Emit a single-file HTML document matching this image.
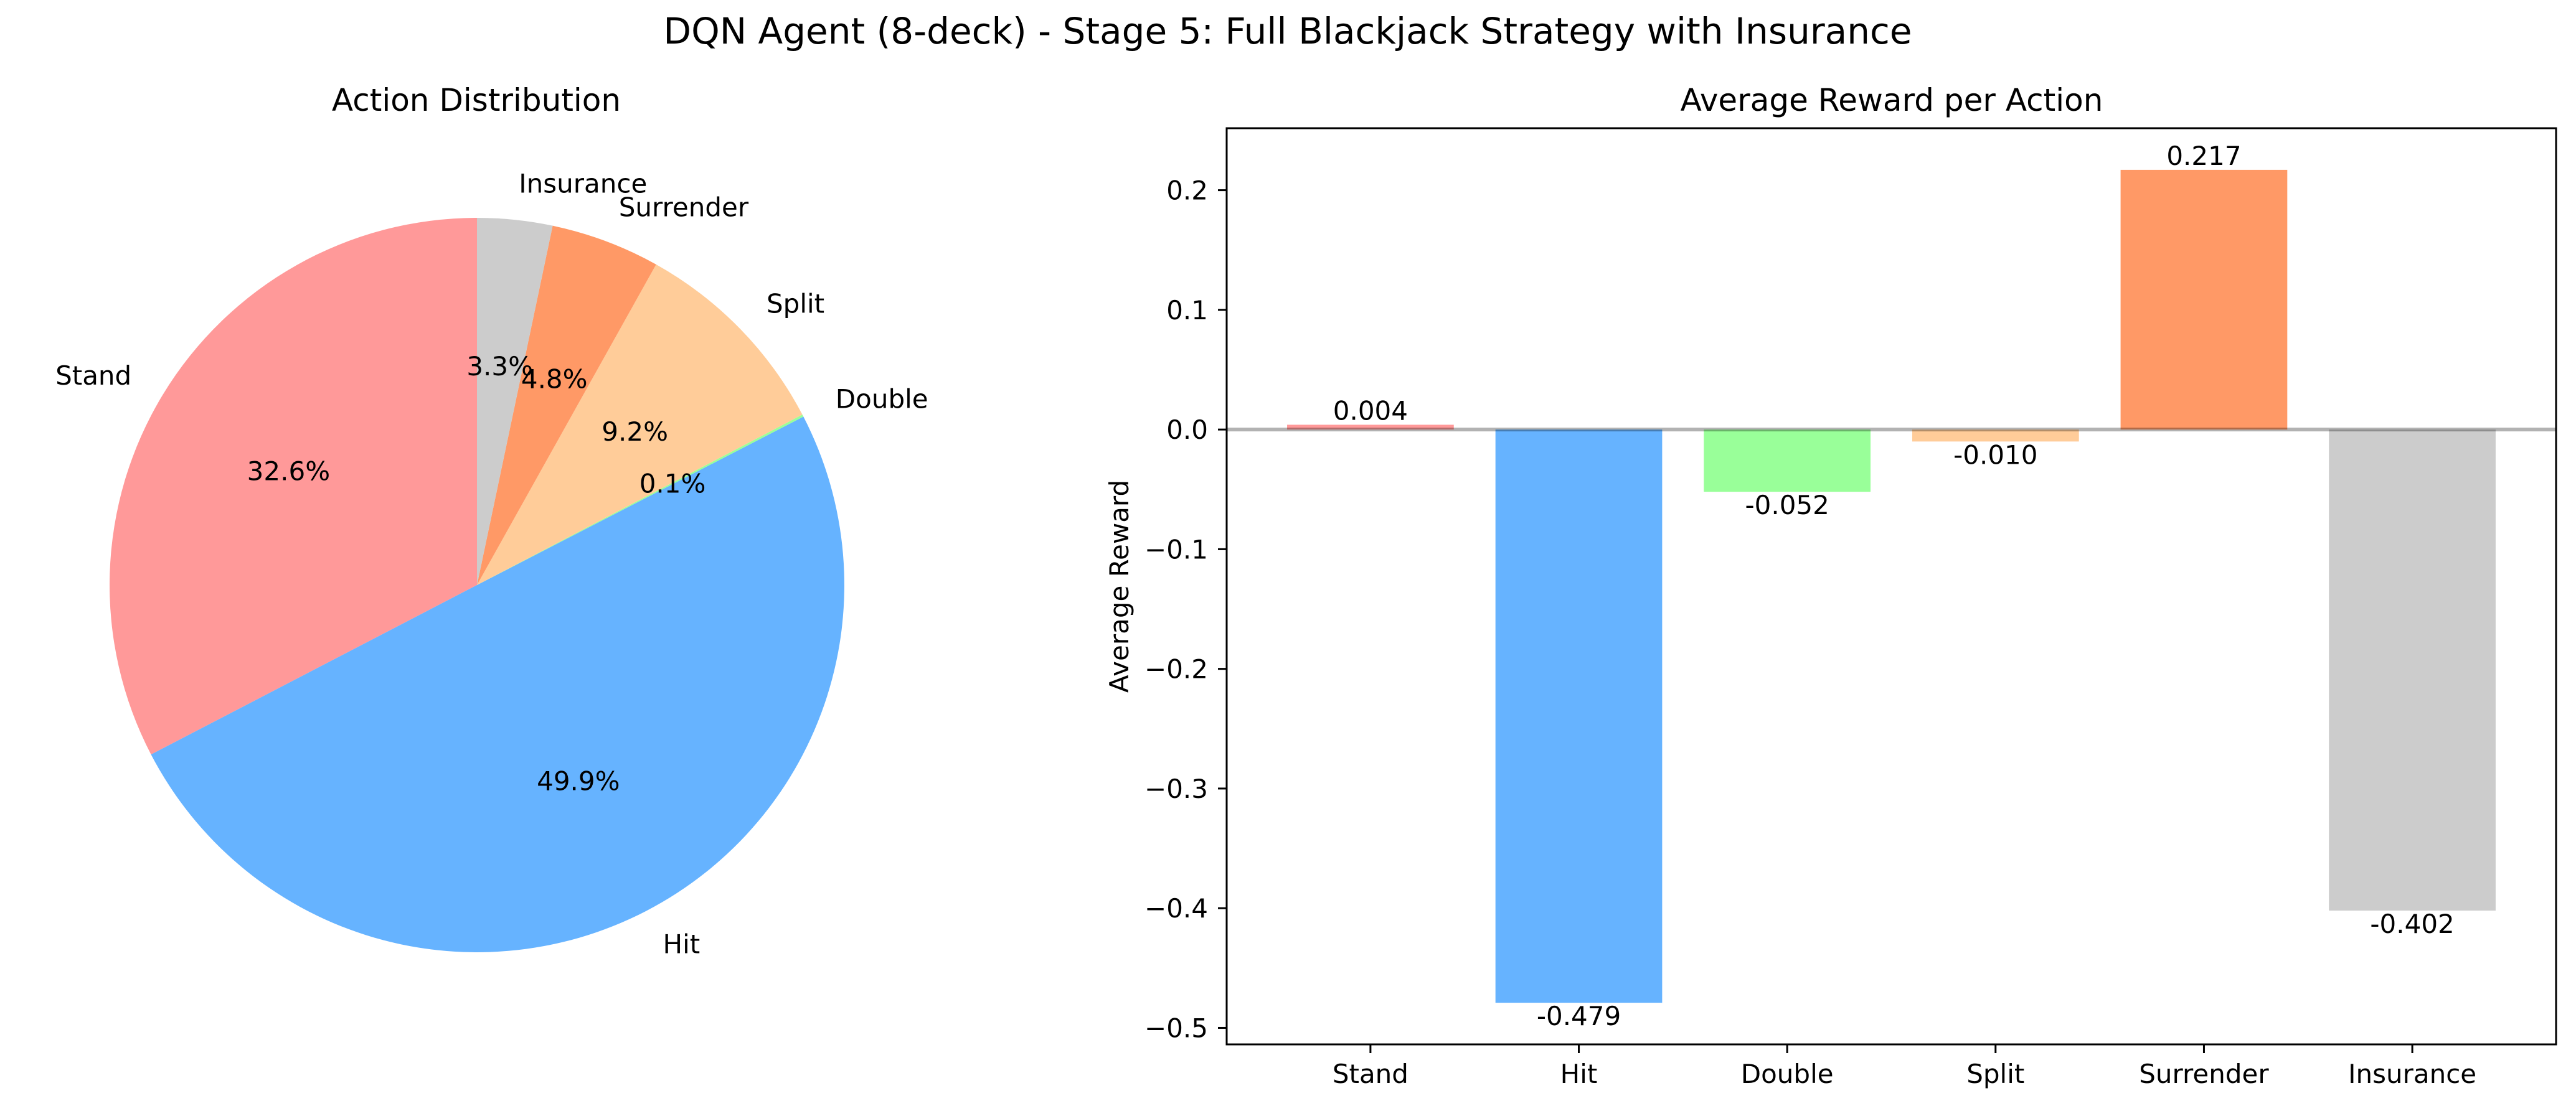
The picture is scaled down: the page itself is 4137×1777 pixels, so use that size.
<!DOCTYPE html>
<html><head><meta charset="utf-8"><style>
html,body{margin:0;padding:0;background:#fff}
svg{display:block;font-family:"DejaVu Sans","Liberation Sans",sans-serif}
</style></head><body>
<svg id="fig" width="4137" height="1777" viewBox="0 0 4137 1777" xmlns="http://www.w3.org/2000/svg">
<rect width="4137" height="1777" fill="#fff"/>
<text x="2068" y="70" font-size="58" text-anchor="middle">DQN Agent (8-deck) - Stage 5: Full Blackjack Strategy with Insurance</text>
<text x="765" y="178" font-size="50" text-anchor="middle">Action Distribution</text>
<text x="3038" y="178" font-size="50" text-anchor="middle">Average Reward per Action</text>
<g id="pie"></g>
<g id="pietext"></g>
<g id="bars"></g>
</svg>
<script>
const pieLabels = ["Stand","Hit","Double","Split","Surrender","Insurance"];
const pieShares = [32.6, 49.9, 0.1, 9.2, 4.8, 3.3];
const barCategories = ["Stand","Hit","Double","Split","Surrender","Insurance"];
const barValues = [0.004, -0.479, -0.052, -0.010, 0.217, -0.402];
const barValueLabels = ["0.004","-0.479","-0.052","-0.010","0.217","-0.402"];
const yTicks = [-0.5,-0.4,-0.3,-0.2,-0.1,0.0,0.1,0.2];
const yTickLabels = ["\u22120.5","\u22120.4","\u22120.3","\u22120.2","\u22120.1","0.0","0.1","0.2"];
const colors = ["#ff9999","#66b3ff","#99ff99","#ffcc99","#ff9966","#cccccc"];

const NS = "http://www.w3.org/2000/svg";
function mk(tag, attrs, parent){const e=document.createElementNS(NS,tag);for(const k in attrs)e.setAttribute(k,attrs[k]);parent.appendChild(e);return e;}

// Pie
const pie=document.getElementById('pie');
const pt=document.getElementById('pietext');
const cx=766, cy=940, R=590;
const total=pieShares.reduce((a,b)=>a+b,0);
let ang=90;
pieShares.forEach((v,i)=>{
  const sweep=v/total*360, a0=ang, a1=ang+sweep; ang=a1;
  const r0=a0*Math.PI/180, r1=a1*Math.PI/180;
  const x0=cx+R*Math.cos(r0), y0=cy-R*Math.sin(r0), x1=cx+R*Math.cos(r1), y1=cy-R*Math.sin(r1);
  const p=mk('path',{d:`M${cx},${cy} L${x0},${y0} A${R},${R} 0 ${sweep>180?1:0} 0 ${x1},${y1} Z`,fill:colors[i]},pie);
  
  
  const m=(a0+a1)/2*Math.PI/180;
  const lx=cx+1.1*R*Math.cos(m), ly=cy-1.1*R*Math.sin(m);
  const t=mk('text',{x:lx,y:ly+15,'font-size':42,'text-anchor':Math.cos(m)<0?'end':'start'},pt);
  t.textContent=pieLabels[i];
  
  
  const px=cx+0.6*R*Math.cos(m), py=cy-0.6*R*Math.sin(m);
  const q=mk('text',{x:px,y:py+15,'font-size':42,'text-anchor':'middle'},pt);
  q.textContent=v.toFixed(1)+'%';
  
  
});

// Bars
const g=document.getElementById('bars');
const L=1970, Rt=4105, T=206, B=1678;
const xmin=-0.69, xmax=5.69, ymin=-0.5138, ymax=0.2518;
const X=v=>L+(v-xmin)/(xmax-xmin)*(Rt-L);
const Y=v=>T+(ymax-v)/(ymax-ymin)*(B-T);
barValues.forEach((v,i)=>{
  const x0=X(i-0.4), x1=X(i+0.4), ya=Y(Math.max(v,0)), yb=Y(Math.min(v,0));
  const r=mk('rect',{x:x0,y:ya,width:x1-x0,height:Math.max(yb-ya,1),fill:colors[i]},g);
  
  
  const t=mk('text',{x:X(i),y:v>=0?Y(v)-8:Y(v)+36,'font-size':42,'text-anchor':'middle'},g);
  t.textContent=barValueLabels[i];
  
  
  const tk=mk('line',{x1:X(i),x2:X(i),y1:B,y2:B+14,stroke:'#000','stroke-width':3},g);
  
  
  const xl=mk('text',{x:X(i),y:B+62,'font-size':42,'text-anchor':'middle'},g);
  xl.textContent=barCategories[i];
  
  
});
const zl=mk('line',{x1:L,x2:Rt,y1:Y(0),y2:Y(0),stroke:'#000','stroke-opacity':0.3,'stroke-width':6},g);


yTicks.forEach((v,i)=>{
  const tk=mk('line',{x1:L-14,x2:L,y1:Y(v),y2:Y(v),stroke:'#000','stroke-width':3},g);
  
  
  const t=mk('text',{x:L-30,y:Y(v)+15,'font-size':42,'text-anchor':'end'},g);
  t.textContent=yTickLabels[i];
  
  
});
const fr=mk('rect',{x:L,y:T,width:Rt-L,height:B-T,fill:'none',stroke:'#000','stroke-width':3},g);


const yl=mk('text',{x:0,y:0,'font-size':42,'text-anchor':'middle',transform:`translate(1812,${(T+B)/2}) rotate(-90)`},g);
yl.textContent='Average Reward';


</script>
</body></html>
